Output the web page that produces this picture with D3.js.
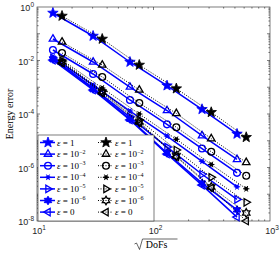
<!DOCTYPE html>
<html>
<head>
<meta charset="utf-8">
<script src="https://cdn.jsdelivr.net/npm/d3@7"></script>
<style>
  html, body { margin: 0; padding: 0; background: #fff; }
  svg { display: block; }
</style>
</head>
<body>
<script>
// sqrt(DoFs) per mesh level
const xBlue  = [13.7, 30.3, 62.8, 130.6, 260.9, 521];
const xBlack = [16.4, 36.3, 75.5, 157, 313, 625];

const labels = ["1", "-2", "-3", "-4", "-5", "-6", "0"];
const markers = ["star", "triUp", "circle", "asterisk", "triRight", "hexagram", "triLeft"];

const blueErr = [
  [0.597, 0.0824, 0.00879, 0.00115, 1.5e-4, 1.8e-5],
  [0.0637, 0.00879, 0.00102, 1.35e-4, 1.55e-5, 2.0e-6],
  [0.0247, 0.00313, 3.34e-4, 4.1e-5, 5.1e-6, 6.3e-7],
  [0.0135, 0.00121, 1.29e-4, 1.5e-5, 1.7e-6, 1.9e-7],
  [0.0124, 9.4e-4, 7.7e-5, 5.8e-6, 5.6e-7, 6.4e-8],
  [0.0114, 8.6e-4, 6.5e-5, 3.5e-6, 2.6e-7, 2.6e-8],
  [0.0104, 7.9e-4, 6.0e-5, 3.2e-6, 2.2e-7, 1.4e-8]
];
const blackErr = [
  [0.461, 0.0637, 0.00679, 8.9e-4, 1.16e-4, 1.35e-5],
  [0.0492, 0.00679, 7.9e-4, 1.05e-4, 1.2e-5, 1.55e-6],
  [0.0191, 0.00242, 2.58e-4, 3.2e-5, 3.9e-6, 4.9e-7],
  [0.0104, 9.4e-4, 1.0e-4, 1.14e-5, 1.3e-6, 1.6e-7],
  [0.00958, 7.2e-4, 6.0e-5, 4.5e-6, 4.3e-7, 5.0e-8],
  [0.00879, 6.6e-4, 5.0e-5, 2.7e-6, 1.87e-7, 2.0e-8],
  [0.00807, 6.1e-4, 4.6e-5, 2.5e-6, 1.71e-7, 1.0e-8]
];

const xTicks = [1, 2, 3];          // exponents
const yTicks = [0, -2, -4, -6, -8];

const W = 280, H = 255;
const m = { l: 37, r: 10, t: 7, b: 34 };

const x = d3.scaleLog().domain([10, 1000]).range([m.l, W - m.r]);
const y = d3.scaleLog().domain([1e-8, 1]).range([H - m.b, m.t]);

const svg = d3.select("body").append("svg")
  .attr("width", W).attr("height", H)
  .attr("viewBox", [0, 0, W, H]);

const axisCol = "#262626";
const tickFont = "'Liberation Sans', Arial, sans-serif";
const texFont = "'Liberation Serif', 'DejaVu Serif', serif";

// marker paths centred at 0,0
function starPath(ro, ri, n, rot) {
  const pts = [];
  for (let i = 0; i < 2 * n; i++) {
    const r = i % 2 ? ri : ro;
    const a = rot + i * Math.PI / n;
    pts.push([r * Math.sin(a), -r * Math.cos(a)]);
  }
  return "M" + pts.map(p => p[0].toFixed(2) + "," + p[1].toFixed(2)).join("L") + "Z";
}
function triPath(r, rot) {
  const pts = [0, 1, 2].map(i => {
    const a = rot + i * 2 * Math.PI / 3;
    return [r * Math.sin(a), -r * Math.cos(a)];
  });
  return "M" + pts.map(p => p[0].toFixed(2) + "," + p[1].toFixed(2)).join("L") + "Z";
}

function drawMarker(g, type, cx, cy, col, filled) {
  const s = g.append("g").attr("transform", `translate(${cx},${cy})`);
  const fill = filled ? col : "none";
  if (type === "star") {
    s.append("path").attr("d", starPath(5.5, 2.3, 5, 0))
      .attr("fill", col).attr("stroke", col).attr("stroke-width", 0.8);
  } else if (type === "triUp") {
    s.append("path").attr("d", triPath(4.3, 0))
      .attr("fill", "none").attr("stroke", col).attr("stroke-width", 1.3);
  } else if (type === "triRight") {
    s.append("path").attr("d", triPath(4.3, Math.PI / 2))
      .attr("fill", "none").attr("stroke", col).attr("stroke-width", 1.3);
  } else if (type === "triLeft") {
    s.append("path").attr("d", triPath(4.3, -Math.PI / 2))
      .attr("fill", "none").attr("stroke", col).attr("stroke-width", 1.3);
  } else if (type === "circle") {
    s.append("circle").attr("r", 3.4)
      .attr("fill", "none").attr("stroke", col).attr("stroke-width", 1.3);
  } else if (type === "asterisk") {
    [0, 60, 120].forEach(a => {
      const r = 3.2, t = a * Math.PI / 180;
      s.append("line")
        .attr("x1", -r * Math.cos(t)).attr("y1", -r * Math.sin(t))
        .attr("x2", r * Math.cos(t)).attr("y2", r * Math.sin(t))
        .attr("stroke", col).attr("stroke-width", 1);
    });
    s.append("circle").attr("r", 2).attr("fill", col);
  } else if (type === "hexagram") {
    s.append("path").attr("d", starPath(4.3, 2.5, 6, 0))
      .attr("fill", fill).attr("stroke", col).attr("stroke-width", filled ? 1 : 1.3);
  }
}

// minor/major ticks
const gAx = svg.append("g");
const x0 = m.l, x1 = W - m.r, y0 = m.t, y1 = H - m.b;

for (let e = 1; e < 3; e++) {
  for (let k = 1; k < 10; k++) {
    const v = k * Math.pow(10, e), px = x(v), len = k === 1 ? 3 : 1.6;
    if (k === 1 && e === 1) continue;
    [[y1, y1 - len], [y0, y0 + len]].forEach(([a, b]) =>
      gAx.append("line").attr("x1", px).attr("x2", px).attr("y1", a).attr("y2", b)
        .attr("stroke", axisCol).attr("stroke-width", 0.6));
  }
}
for (let e = -8; e < 0; e++) {
  for (let k = 1; k < 10; k++) {
    const v = k * Math.pow(10, e), py = y(v), len = k === 1 ? 3 : 1.6;
    if (k === 1 && e === -8) continue;
    [[x0, x0 + len], [x1, x1 - len]].forEach(([a, b]) =>
      gAx.append("line").attr("y1", py).attr("y2", py).attr("x1", a).attr("x2", b)
        .attr("stroke", axisCol).attr("stroke-width", 0.6));
  }
}

// series
const lineGen = d3.line().x(d => x(d[0])).y(d => y(d[1]));
const gData = svg.append("g");

blueErr.forEach((ser, i) => {
  const pts = ser.map((v, j) => [xBlue[j], v]);
  gData.append("path").attr("d", lineGen(pts))
    .attr("fill", "none").attr("stroke", "#0000ff").attr("stroke-width", 1.5);
  pts.forEach(p => drawMarker(gData, markers[i], x(p[0]), y(p[1]), "#0000ff", true));
});
blackErr.forEach((ser, i) => {
  const pts = ser.map((v, j) => [xBlack[j], v]);
  gData.append("path").attr("d", lineGen(pts))
    .attr("fill", "none").attr("stroke", "#000").attr("stroke-width", 1)
    .attr("stroke-dasharray", "1,1.5");
  pts.forEach(p => drawMarker(gData, markers[i], x(p[0]), y(p[1]), "#000", i === 0));
});

// box
svg.append("rect").attr("x", x0).attr("y", y0)
  .attr("width", x1 - x0).attr("height", y1 - y0)
  .attr("fill", "none").attr("stroke", axisCol).attr("stroke-width", 0.6);

// tick labels
function powLabel(g, px, py, exp, anchor) {
  const t = g.append("text").attr("x", px).attr("y", py)
    .attr("font-family", tickFont).attr("font-size", 9).attr("fill", axisCol)
    .attr("text-anchor", anchor);
  t.append("tspan").text("10");
  t.append("tspan").attr("dy", -4).attr("font-size", 6.5).text(exp);
}
xTicks.forEach(e => powLabel(svg, x(Math.pow(10, e)) + 2, y1 + 13, e, "middle"));
yTicks.forEach(e => powLabel(svg, x0 - 3, y(Math.pow(10, e)) + 4, e === 0 ? "0" : String(e), "end"));

// axis labels
svg.append("text")
  .attr("transform", `translate(13,${(y0 + y1) / 2}) rotate(-90)`)
  .attr("text-anchor", "middle")
  .attr("font-family", texFont).attr("font-size", 10).attr("fill", "#000")
  .text("Energy error");

const xl = svg.append("g").attr("transform", `translate(${x(100)},${y1 + 27})`);
xl.append("text").attr("x", 3).attr("y", 0).attr("text-anchor", "middle")
  .attr("font-family", texFont).attr("font-size", 10).attr("fill", "#000")
  .text("DoFs");
xl.append("path").attr("d", "M-19,-4 L-17,-5 L-14,1.5 L-11,-9 L24,-9")
  .attr("fill", "none").attr("stroke", "#000").attr("stroke-width", 0.6);

// legend
const lg = svg.append("g");
const lgX = x0 + 1, lgY = 135, lgW = 116, lgH = y1 - 135;
lg.append("rect").attr("x", lgX).attr("y", lgY).attr("width", lgW).attr("height", lgH)
  .attr("fill", "#fff").attr("stroke", axisCol).attr("stroke-width", 0.6);

const rowY = i => 142.5 + i * 11.6;
[[40, "#0000ff", false], [98, "#000", true]].forEach(([cx, col, dotted], c) => {
  labels.forEach((lab, i) => {
    const yy = rowY(i);
    lg.append("line").attr("x1", cx).attr("x2", cx + 15).attr("y1", yy).attr("y2", yy)
      .attr("stroke", col).attr("stroke-width", dotted ? 1 : 1.5)
      .attr("stroke-dasharray", dotted ? "1,1.5" : null);
    drawMarker(lg, markers[i], cx + 8, yy, col, c === 0 ? true : i === 0);
    const t = lg.append("text").attr("x", cx + 17).attr("y", yy + 3)
      .attr("font-family", texFont).attr("font-size", 9).attr("fill", "#000");
    t.append("tspan").attr("font-style", "italic").text("ε");
    if (lab === "1" || lab === "0") {
      t.append("tspan").text(" = " + lab);
    } else {
      t.append("tspan").text(" = 10");
      t.append("tspan").attr("dy", -3.5).attr("font-size", 6).text("−" + lab.slice(1));
    }
  });
});
</script>
</body>
</html>
